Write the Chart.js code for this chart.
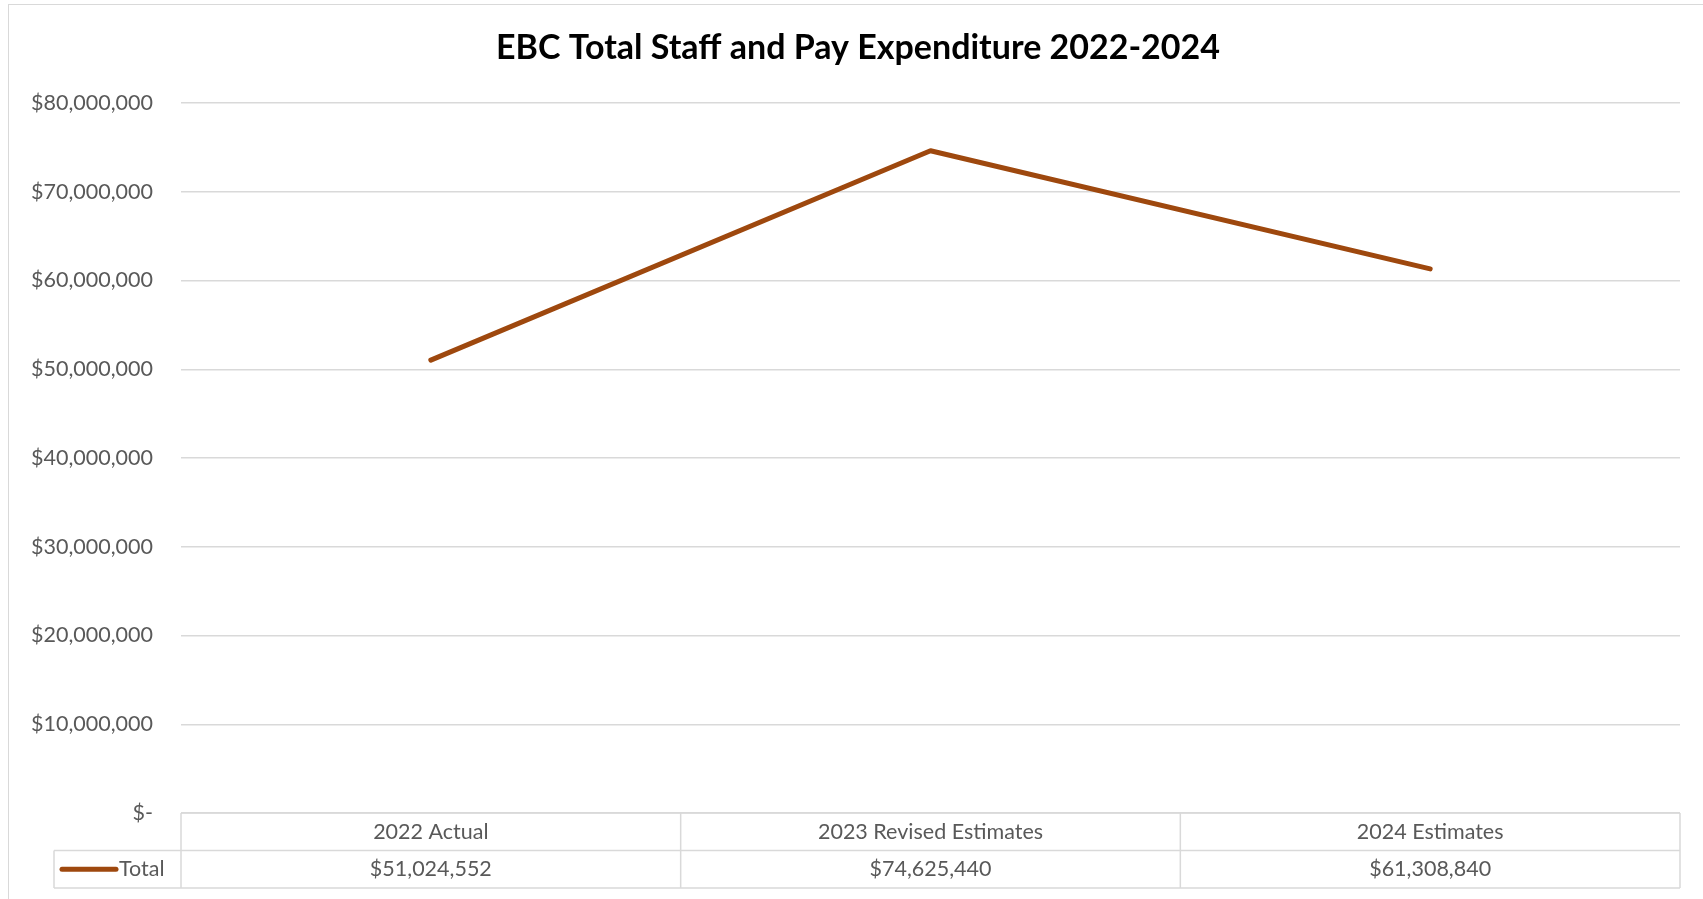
<!DOCTYPE html>
<html>
<head>
<meta charset="utf-8">
<script src="https://cdn.jsdelivr.net/npm/chart.js@4.4.1/dist/chart.umd.min.js"></script>
<style>
  html, body { margin: 0; padding: 0; background: #fff; overflow: hidden; }
  #wrap { position: absolute; left: 0; top: 0; width: 1703px; height: 899px; }
  #frame { position: absolute; left: 8px; top: 4px; width: 1720px; height: 920px; border: 1.5px solid #d9d9d9; box-sizing: border-box; }
</style>
</head>
<body>
<div id="wrap">
  <div id="frame"></div>
  <canvas id="chartTotal" width="1703" height="899"></canvas>
</div>
<script>
// Dados
const TITLE = 'EBC Total Staff and Pay Expenditure 2022-2024';
const CATEGORIES = ['2022 Actual', '2023 Revised Estimates', '2024 Estimates'];
const SERIES_NAME = 'Total';
const TOTAL_VALUES = [51024552, 74625440, 61308840];
const Y_MIN = 0;
const Y_MAX = 80000000;
const Y_STEP = 10000000;

const LINE_COLOR = '#9E480E';
const GRID_COLOR = '#d9d9d9';
const TEXT_COLOR = '#595959';
const FONT = 'Lato, "Open Sans", sans-serif';
const TXT_SIZE = 21.5;

const fmtMoney = v => v === 0 ? '$-' : '$' + v.toLocaleString('en-US');

// título desenhado a mão para controlar a posição
const titlePlugin = {
  id: 'titleDraw',
  afterDraw(chart) {
    const ctx = chart.ctx;
    ctx.save();
    ctx.font = 'bold 34px ' + FONT;
    ctx.fillStyle = '#000';
    ctx.textAlign = 'center';
    ctx.textBaseline = 'middle';
    ctx.fillText(TITLE, 858, 48);
    ctx.restore();
  }
};

// tabela de dados embaixo do gráfico (estilo Excel)
const dataTablePlugin = {
  id: 'dataTable',
  afterDraw(chart) {
    const ctx = chart.ctx;
    const area = chart.chartArea;
    const x = chart.scales.x;
    const n = CATEGORIES.length;
    const colW = (area.right - area.left) / n;
    const rowH = 37.5;
    const top = area.bottom;
    const mid = top + rowH;
    const bot = mid + rowH;
    const legendLeft = 54;

    ctx.save();
    ctx.strokeStyle = GRID_COLOR;
    ctx.lineWidth = 1.5;
    ctx.beginPath();
    // horizontais
    ctx.moveTo(area.left, top); ctx.lineTo(area.right, top);
    ctx.moveTo(legendLeft, mid); ctx.lineTo(area.right, mid);
    ctx.moveTo(legendLeft, bot); ctx.lineTo(area.right, bot);
    // verticais
    for (let i = 0; i <= n; i++) {
      const cx = area.left + colW * i;
      ctx.moveTo(cx, top); ctx.lineTo(cx, bot);
    }
    ctx.moveTo(legendLeft, mid); ctx.lineTo(legendLeft, bot);
    ctx.stroke();

    ctx.font = TXT_SIZE + 'px ' + FONT;
    ctx.fillStyle = TEXT_COLOR;
    ctx.textAlign = 'center';
    ctx.textBaseline = 'middle';
    CATEGORIES.forEach((c, i) => {
      const px = x.getPixelForValue(i);
      ctx.fillText(c, px, (top + mid) / 2);
      ctx.fillText(fmtMoney(TOTAL_VALUES[i]), px, (mid + bot) / 2);
    });

    // legenda
    const ly = (mid + bot) / 2;
    ctx.strokeStyle = LINE_COLOR;
    ctx.lineWidth = 5;
    ctx.lineCap = 'round';
    ctx.beginPath();
    ctx.moveTo(legendLeft + 8, ly); ctx.lineTo(legendLeft + 62, ly);
    ctx.stroke();
    ctx.textAlign = 'left';
    ctx.fillText(SERIES_NAME, legendLeft + 65, ly);
    ctx.restore();
  }
};

Chart.defaults.font.family = FONT;
Chart.defaults.color = TEXT_COLOR;

const ctx = document.getElementById('chartTotal').getContext('2d');
new Chart(ctx, {
  type: 'line',
  data: {
    labels: CATEGORIES,
    datasets: [{
      label: SERIES_NAME,
      data: TOTAL_VALUES,
      borderColor: LINE_COLOR,
      backgroundColor: LINE_COLOR,
      borderWidth: 5,
      borderCapStyle: 'round',
      borderJoinStyle: 'round',
      pointRadius: 0,
      tension: 0,
      fill: false
    }]
  },
  options: {
    responsive: false,
    animation: false,
    devicePixelRatio: 1,
    layout: { padding: { left: 0, right: 23, top: 103, bottom: 86 } },
    plugins: { legend: { display: false }, title: { display: false }, tooltip: { enabled: false } },
    scales: {
      x: {
        type: 'category',
        offset: true,
        display: false
      },
      y: {
        min: Y_MIN,
        max: Y_MAX,
        afterFit(s) { s.width = 181; },
        border: { display: false },
        grid: { color: GRID_COLOR, lineWidth: 1.5, drawTicks: false },
        ticks: {
          stepSize: Y_STEP,
          padding: 28,
          font: { size: TXT_SIZE },
          color: TEXT_COLOR,
          callback: v => fmtMoney(v)
        }
      }
    }
  },
  plugins: [titlePlugin, dataTablePlugin]
});
</script>
</body>
</html>
